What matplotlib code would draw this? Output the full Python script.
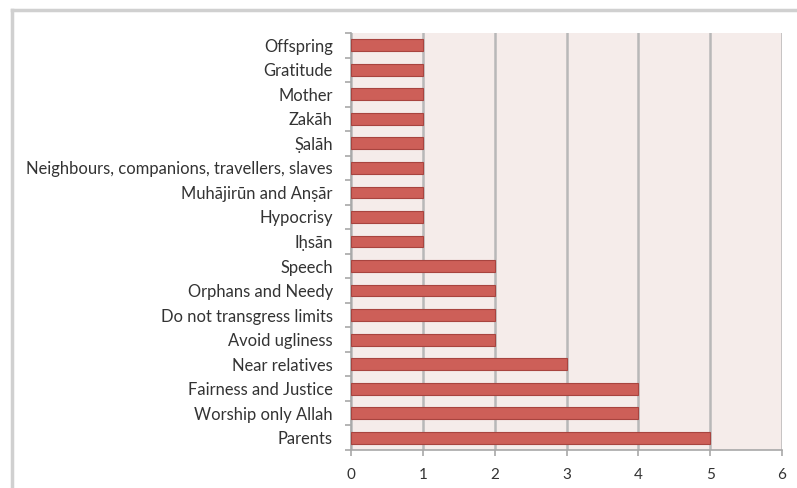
import matplotlib.pyplot as plt
import numpy as np
from matplotlib.lines import Line2D

# categories listed top to bottom as in the chart
labels = ["Offspring", "Gratitude", "Mother", "Zakāh", "Ṣalāh",
          "Neighbours, companions, travellers, slaves", "Muhājirūn and Anṣār",
          "Hypocrisy", "Iḥsān", "Speech", "Orphans and Needy",
          "Do not transgress limits", "Avoid ugliness", "Near relatives",
          "Fairness and Justice", "Worship only Allah", "Parents"]
counts = [1, 1, 1, 1, 1, 1, 1, 1, 1, 2, 2, 2, 2, 3, 4, 4, 5]
xticks = [0, 1, 2, 3, 4, 5, 6]

plt.rcParams['font.family'] = ['Lato', 'DejaVu Sans']

fig = plt.figure(figsize=(7.97, 4.88), dpi=100)
ax = fig.add_axes([351/797, 38/488, 431/797, 417/488])

n = len(labels)
ypos = np.arange(n)[::-1]
ax.barh(ypos, counts, height=0.48, color='#cd5f58', edgecolor='#a8443f',
        linewidth=0.8, zorder=3)

ax.set_facecolor('#f5ecea')
ax.set_xlim(0, 6)
ax.set_ylim(-0.5, n - 0.5)
ax.set_xticks(xticks)
ax.set_xticklabels([str(t) for t in xticks], fontsize=11, color='#333333')
ax.set_yticks(ypos)
ax.set_yticklabels(labels, fontsize=11.9, color='#333333')
ax.set_yticks(np.arange(n + 1) - 0.5, minor=True)
ax.tick_params(axis='y', which='major', length=0, pad=13)
ax.tick_params(axis='y', which='minor', length=4, color='#a8a8a8', width=1.2)
ax.tick_params(axis='x', length=4, color='#a8a8a8', width=1.2, pad=9)

ax.xaxis.grid(True, color='#b8b8b8', linewidth=1.8, zorder=1)
ax.set_axisbelow(True)
for s in ['top', 'right']:
    ax.spines[s].set_visible(False)
for s in ['left', 'bottom']:
    ax.spines[s].set_color('#a8a8a8')
    ax.spines[s].set_linewidth(1.2)

# outer frame lines of the original chart box
fig.add_artist(Line2D([11.5/797, 1], [1 - 10/488, 1 - 10/488],
                      transform=fig.transFigure, color='#d0d0d0', linewidth=2.5))
fig.add_artist(Line2D([11.5/797, 11.5/797], [0, 1 - 10/488],
                      transform=fig.transFigure, color='#d0d0d0', linewidth=2.5))

fig.savefig('out.png', dpi=100)
